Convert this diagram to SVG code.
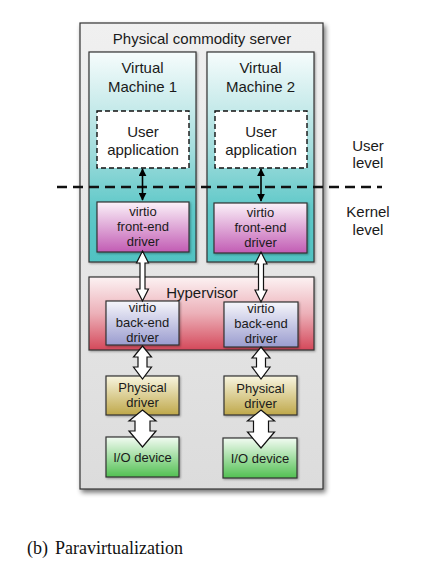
<svg xmlns="http://www.w3.org/2000/svg" width="448" height="577" viewBox="0 0 448 577">
<defs>
  <linearGradient id="gServer" x1="0" y1="0" x2="0" y2="1">
    <stop offset="0" stop-color="#f0f0f0"/><stop offset="1" stop-color="#dcdcdc"/>
  </linearGradient>
  <linearGradient id="gVM" x1="0" y1="0" x2="0" y2="1">
    <stop offset="0" stop-color="#f6fcfc"/><stop offset="0.45" stop-color="#a6dede"/><stop offset="0.75" stop-color="#5ec8c8"/><stop offset="1" stop-color="#50c2c2"/>
  </linearGradient>
  <linearGradient id="gFront" x1="0" y1="0" x2="0" y2="1">
    <stop offset="0" stop-color="#fbf2f9"/><stop offset="1" stop-color="#c25cb4"/>
  </linearGradient>
  <linearGradient id="gHyp" x1="0" y1="0" x2="0" y2="1">
    <stop offset="0" stop-color="#fcf2f3"/><stop offset="0.5" stop-color="#ecb0b8"/><stop offset="1" stop-color="#d4485a"/>
  </linearGradient>
  <linearGradient id="gBack" x1="0" y1="0" x2="0" y2="1">
    <stop offset="0" stop-color="#f6f6fb"/><stop offset="1" stop-color="#9a9ccf"/>
  </linearGradient>
  <linearGradient id="gPhys" x1="0" y1="0" x2="0" y2="1">
    <stop offset="0" stop-color="#f8f5e0"/><stop offset="1" stop-color="#bfa84a"/>
  </linearGradient>
  <linearGradient id="gIO" x1="0" y1="0" x2="0" y2="1">
    <stop offset="0" stop-color="#f2fbf2"/><stop offset="1" stop-color="#52c052"/>
  </linearGradient>
  <filter id="shadow" x="-10%" y="-10%" width="130%" height="130%">
    <feGaussianBlur in="SourceAlpha" stdDeviation="2.5"/>
    <feOffset dx="2" dy="3" result="b"/>
    <feComponentTransfer><feFuncA type="linear" slope="0.55"/></feComponentTransfer>
    <feMerge><feMergeNode/><feMergeNode in="SourceGraphic"/></feMerge>
  </filter>
  <filter id="shadowS" x="-10%" y="-10%" width="130%" height="130%">
    <feGaussianBlur in="SourceAlpha" stdDeviation="1"/>
    <feOffset dx="1" dy="1" result="b"/>
    <feComponentTransfer><feFuncA type="linear" slope="0.35"/></feComponentTransfer>
    <feMerge><feMergeNode/><feMergeNode in="SourceGraphic"/></feMerge>
  </filter>
  <marker id="ah" viewBox="0 0 10 10" refX="9" refY="5" markerWidth="8" markerHeight="8" markerUnits="userSpaceOnUse" orient="auto-start-reverse">
    <path d="M0,0 L10,5 L0,10 z" fill="#000"/>
  </marker>
</defs>
<style>
  .box { stroke: #333; stroke-width: 1.2; }
  .t { font-family: "Liberation Sans", Arial, sans-serif; fill: #1a1a1a; text-anchor: middle; }
  .l { font-size: 15px; }
  .s { font-size: 13px; }
  .dar { fill: #fff; stroke: #111; stroke-width: 1.2; stroke-linejoin: miter; }
  .cap { font-family: "Liberation Serif", "Times New Roman", serif; font-size: 18px; fill: #111; }
</style>
<rect width="448" height="577" fill="#fff"/>

<g id="server">
  <rect x="80" y="23" width="243" height="466" fill="url(#gServer)" class="box" filter="url(#shadow)"/>
  <text class="t l" x="202" y="44">Physical commodity server</text>
</g>

<g id="vm1">
  <rect x="89" y="52" width="107" height="210" fill="url(#gVM)" class="box" filter="url(#shadowS)"/>
  <text class="t l" x="142.5" y="73">Virtual</text>
  <text class="t l" x="142.5" y="92">Machine 1</text>
</g>
<g id="vm2">
  <rect x="207" y="52" width="107" height="210" fill="url(#gVM)" class="box" filter="url(#shadowS)"/>
  <text class="t l" x="260.5" y="73">Virtual</text>
  <text class="t l" x="260.5" y="92">Machine 2</text>
</g>

<g id="app1">
  <rect x="97" y="111" width="92" height="57" fill="#fff" stroke="#111" stroke-width="1.4" stroke-dasharray="5 3"/>
  <text class="t l" x="143" y="137">User</text>
  <text class="t l" x="143" y="155">application</text>
</g>
<g id="app2">
  <rect x="215" y="111" width="92" height="57" fill="#fff" stroke="#111" stroke-width="1.4" stroke-dasharray="5 3"/>
  <text class="t l" x="261" y="137">User</text>
  <text class="t l" x="261" y="155">application</text>
</g>

<g id="front1">
  <rect x="97" y="202" width="92" height="50" fill="url(#gFront)" class="box" filter="url(#shadowS)"/>
  <text class="t s" x="143" y="216">virtio</text>
  <text class="t s" x="143" y="231">front-end</text>
  <text class="t s" x="143" y="246">driver</text>
</g>
<g id="front2">
  <rect x="214" y="203" width="93" height="50" fill="url(#gFront)" class="box" filter="url(#shadowS)"/>
  <text class="t s" x="260.5" y="217">virtio</text>
  <text class="t s" x="260.5" y="232">front-end</text>
  <text class="t s" x="260.5" y="247">driver</text>
</g>

<g id="hypervisor">
  <rect x="89" y="277" width="225" height="73" fill="url(#gHyp)" class="box" filter="url(#shadowS)"/>
  <text class="t l" x="202" y="298">Hypervisor</text>
</g>

<g id="back1">
  <rect x="106" y="301" width="73" height="44" fill="url(#gBack)" class="box" filter="url(#shadowS)"/>
  <text class="t s" x="142.5" y="312">virtio</text>
  <text class="t s" x="142.5" y="327">back-end</text>
  <text class="t s" x="142.5" y="342">driver</text>
</g>
<g id="back2">
  <rect x="224" y="302" width="74" height="45" fill="url(#gBack)" class="box" filter="url(#shadowS)"/>
  <text class="t s" x="261" y="313">virtio</text>
  <text class="t s" x="261" y="328">back-end</text>
  <text class="t s" x="261" y="343">driver</text>
</g>

<g id="phys1">
  <rect x="106" y="376" width="73" height="39" fill="url(#gPhys)" class="box" filter="url(#shadowS)"/>
  <text class="t s" x="142.5" y="392">Physical</text>
  <text class="t s" x="142.5" y="407">driver</text>
</g>
<g id="phys2">
  <rect x="224" y="376" width="73" height="39" fill="url(#gPhys)" class="box" filter="url(#shadowS)"/>
  <text class="t s" x="260.5" y="393">Physical</text>
  <text class="t s" x="260.5" y="408">driver</text>
</g>

<g id="io1">
  <rect x="106" y="437" width="73" height="40" fill="url(#gIO)" class="box" filter="url(#shadowS)"/>
  <text class="t s" x="142.5" y="462">I/O device</text>
</g>
<g id="io2">
  <rect x="223" y="438" width="74" height="40" fill="url(#gIO)" class="box" filter="url(#shadowS)"/>
  <text class="t s" x="260" y="463">I/O device</text>
</g>

<g id="levels">
  <line x1="57" y1="187" x2="382" y2="187" stroke="#111" stroke-width="2.4" stroke-dasharray="10 6"/>
  <text class="t l" x="368" y="151">User</text>
  <text class="t l" x="368" y="168">level</text>
  <text class="t l" x="368" y="217">Kernel</text>
  <text class="t l" x="368" y="235">level</text>
</g>

<g id="connectors">
  <line x1="142.5" y1="169" x2="142.5" y2="200" stroke="#000" stroke-width="1.6" marker-start="url(#ah)" marker-end="url(#ah)"/>
  <line x1="261" y1="169" x2="261" y2="201" stroke="#000" stroke-width="1.6" marker-start="url(#ah)" marker-end="url(#ah)"/>
  <!-- front-end to back-end -->
  <polygon class="dar" points="142.5,251 148.5,263 145,263 145,289 148.5,289 142.5,301 136.5,289 140,289 140,263 136.5,263"/>
  <polygon class="dar" points="261,252 267,264 263.5,264 263.5,290 267,290 261,302 255,290 258.5,290 258.5,264 255,264"/>
  <!-- back-end to physical -->
  <polygon class="dar" points="142.5,346 151.5,357 147,357 147,367 151.5,367 142.5,379 133.5,367 138,367 138,357 133.5,357"/>
  <polygon class="dar" points="261,347 270,358 265.5,358 265.5,367 270,367 261,379 252,367 256.5,367 256.5,358 252,358"/>
  <!-- physical to io -->
  <polygon class="dar" points="142.5,410 156,421 150,421 150,431 156,431 142.5,447 129,431 135,431 135,421 129,421"/>
  <polygon class="dar" points="261,410 274.5,421 268.5,421 268.5,432 274.5,432 261,448 247.5,432 253.5,432 253.5,421 247.5,421"/>
</g>

<text class="cap" x="27" y="554">(b)</text>
<text class="cap" x="55" y="554">Paravirtualization</text>
</svg>
